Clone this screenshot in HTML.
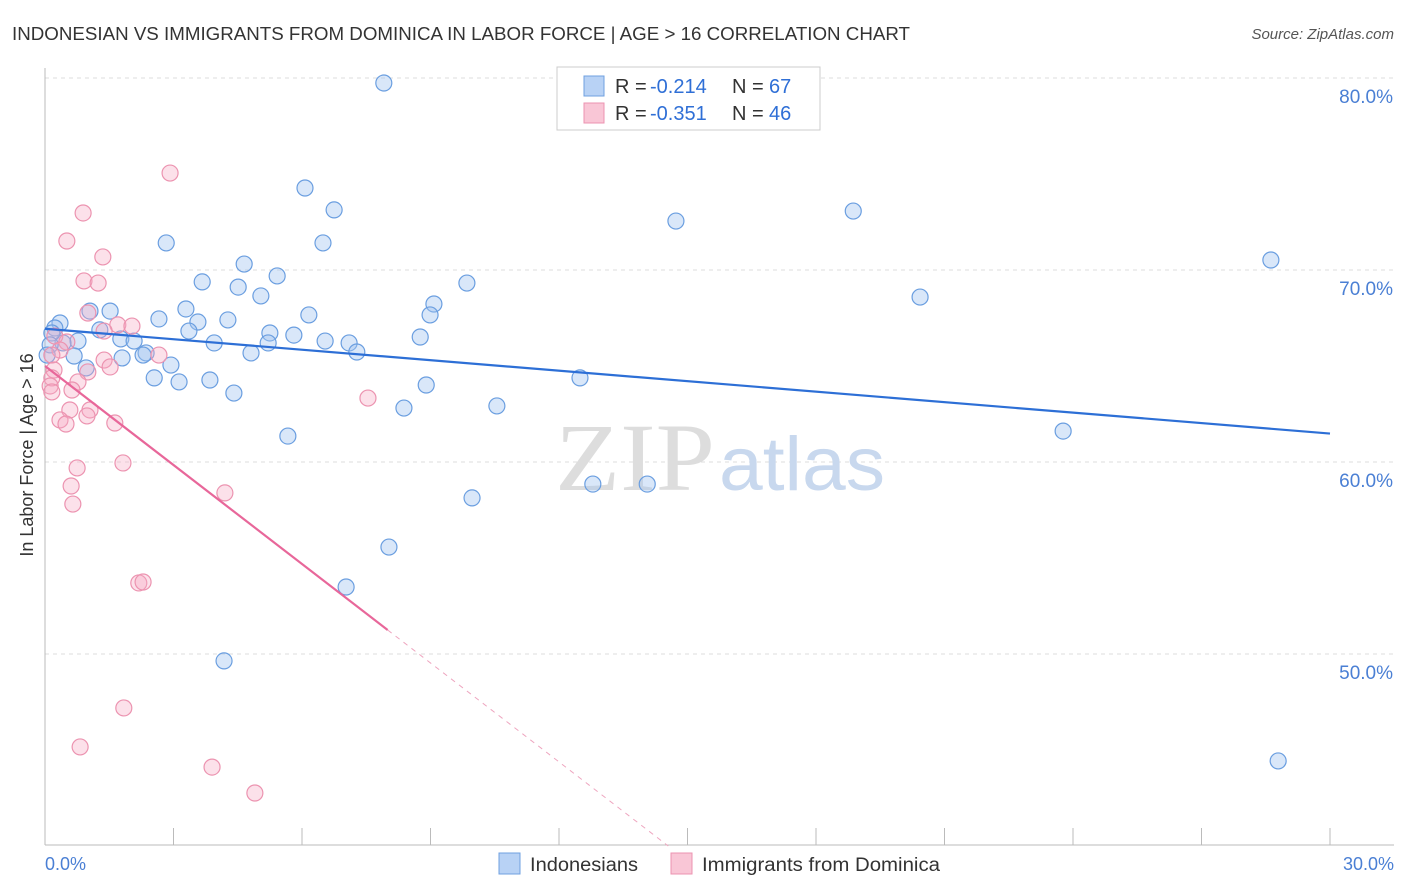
<!DOCTYPE html>
<html><head><meta charset="utf-8"><style>
body{margin:0;background:#fff;font-family:"Liberation Sans",sans-serif}
svg{display:block}
</style></head><body>
<svg id="c" width="1406" height="892">
<text x="12" y="40" font-size="18" fill="#333" textLength="898" lengthAdjust="spacingAndGlyphs">INDONESIAN VS IMMIGRANTS FROM DOMINICA IN LABOR FORCE | AGE &gt; 16 CORRELATION CHART</text>
<text x="1394" y="39" font-size="15" fill="#555" font-style="italic" text-anchor="end">Source: ZipAtlas.com</text>
<g id="grid"></g>
<text x="555" y="490" font-size="96" fill="#ddd" textLength="160" lengthAdjust="spacingAndGlyphs" font-family="Liberation Serif">ZIP</text>
<text x="719" y="490" font-size="76" fill="#c8d8ee" textLength="166" lengthAdjust="spacingAndGlyphs">atlas</text>
<g id="pts"></g>
<g id="lines"></g>
<text x="33" y="455" font-size="18" fill="#333" text-anchor="middle" transform="rotate(-90 33 455)">In Labor Force | Age &gt; 16</text>
<text x="45" y="870" font-size="18" fill="#4a7fd4">0.0%</text>
<text x="1394" y="870" font-size="18" fill="#4a7fd4" text-anchor="end">30.0%</text>
<g>
<rect x="557" y="67" width="263" height="63" fill="#fff" stroke="#ccc"/>
<rect x="584" y="76" width="20" height="20" fill="#b8d2f5" stroke="#6fa0e0"/>
<rect x="584" y="103" width="20" height="20" fill="#f9c6d6" stroke="#ec93b0"/>
<text x="615" y="93" font-size="20" fill="#333">R =</text>
<text x="650" y="93" font-size="20" fill="#2f6fd6">-0.214</text>
<text x="732" y="93" font-size="20" fill="#333">N =</text>
<text x="769" y="93" font-size="20" fill="#2f6fd6">67</text>
<text x="615" y="120" font-size="20" fill="#333">R =</text>
<text x="650" y="120" font-size="20" fill="#2f6fd6">-0.351</text>
<text x="732" y="120" font-size="20" fill="#333">N =</text>
<text x="769" y="120" font-size="20" fill="#2f6fd6">46</text>
</g>
<g>
<rect x="499" y="853" width="21" height="21" fill="#b8d2f5" stroke="#6fa0e0"/>
<text x="530" y="871" font-size="19" fill="#333" textLength="108" lengthAdjust="spacingAndGlyphs">Indonesians</text>
<rect x="671" y="853" width="21" height="21" fill="#f9c6d6" stroke="#ec93b0"/>
<text x="702" y="871" font-size="19" fill="#333" textLength="238" lengthAdjust="spacingAndGlyphs">Immigrants from Dominica</text>
</g>
</svg>
<script>
const yTicks=[50,60,70,80];
const yTickLabels=["50.0%","60.0%","70.0%","80.0%"];
const xTicks=[0,3,6,9,12,15,18,21,24,27,30];
const blueX=[7.91,6.07,6.75,2.83,6.49,14.73,18.87,28.62,4.65,5.42,3.67,4.51,5.04,9.85,9.08,8.99,20.43,3.29,1.52,1.05,2.66,4.27,3.57,6.16,0.35,0.23,1.28,3.36,5.25,5.81,8.76,1.77,2.08,0.77,0.42,3.95,6.54,7.10,5.21,7.28,4.81,2.36,2.29,0.68,1.80,2.94,0.96,2.55,3.13,3.85,12.49,8.90,4.41,8.38,10.55,5.67,23.77,12.79,14.06,9.97,8.03,7.03,4.18,28.79,0.16,0.12,0.05];
const blueY=[79.74,74.27,73.13,71.41,71.41,72.55,73.07,70.52,70.31,69.69,69.38,69.11,68.65,69.32,68.23,67.66,68.59,67.97,67.86,67.86,67.45,67.40,67.29,67.66,67.24,66.98,66.88,66.82,66.72,66.61,66.51,66.41,66.30,66.30,66.20,66.20,66.30,66.20,66.20,65.73,65.68,65.68,65.57,65.52,65.42,65.05,64.90,64.38,64.17,64.27,64.38,64.01,63.59,62.81,62.92,61.35,61.61,58.85,58.85,58.13,55.57,53.49,49.64,44.43,66.72,66.1,65.57];
const pinkX=[2.92,0.89,0.51,1.35,0.91,1.24,1.00,1.70,2.03,1.38,0.23,0.51,0.35,0.16,2.66,1.38,1.52,0.21,1.00,0.16,0.77,0.12,0.63,7.54,0.58,1.05,0.98,0.35,0.49,1.63,1.82,0.75,0.61,0.65,4.20,2.19,2.29,1.84,0.82,3.90,4.90,0.16];
const pinkY=[75.05,72.97,71.51,70.68,69.43,69.32,67.76,67.14,67.08,66.82,66.56,66.25,65.83,65.57,65.57,65.31,64.95,64.79,64.69,64.38,64.17,63.96,63.75,63.33,62.71,62.71,62.40,62.19,61.98,62.03,59.95,59.69,58.75,57.81,58.39,53.70,53.75,47.19,45.16,44.11,42.76,63.65];
const blueTrend=[[0,66.94],[30,61.48]];
const pinkTrendSolid=[[0,65.0],[8.0,51.25]];
const pinkTrendDash=[[8.0,51.25],[14.55,40.0]];
const X=v=>45+v*42.833, Y=v=>270-(v-70)*19.2;
const NS="http://www.w3.org/2000/svg";
function mk(t,a,p){const e=document.createElementNS(NS,t);for(const k in a)e.setAttribute(k,a[k]);p.appendChild(e);return e;}
const grid=document.getElementById('grid');
yTicks.forEach((t,i)=>{
 const l=mk('line',{x1:45,x2:1394,y1:Y(t),y2:Y(t),stroke:'#ddd','stroke-dasharray':'4,4'},grid);
 
 
 const tx=mk('text',{x:1393,y:Y(t)+25,'font-size':19,fill:'#4a7fd4','text-anchor':'end'},grid);
 tx.textContent=yTickLabels[i];
 
 
});
mk('line',{x1:45,x2:45,y1:68,y2:845,stroke:'#bbb'},grid);
mk('line',{x1:45,x2:1394,y1:845,y2:845,stroke:'#bbb'},grid);
xTicks.forEach(t=>{
 const l=mk('line',{x1:X(t),x2:X(t),y1:828,y2:845,stroke:'#bbb'},grid);
 
 
});
const pts=document.getElementById('pts');
blueX.forEach((x,i)=>{
 const c=mk('circle',{cx:X(x),cy:Y(blueY[i]),r:8,fill:'rgba(160,195,240,0.4)',stroke:'#6a9ee0','stroke-width':1.2},pts);
 
 
});
pinkX.forEach((x,i)=>{
 const c=mk('circle',{cx:X(x),cy:Y(pinkY[i]),r:8,fill:'rgba(245,170,195,0.35)',stroke:'#ec93b0','stroke-width':1.2},pts);
 
 
});
const lines=document.getElementById('lines');
const b=mk('line',{x1:X(blueTrend[0][0]),y1:Y(blueTrend[0][1]),x2:X(blueTrend[1][0]),y2:Y(blueTrend[1][1]),stroke:'#2d6fd6','stroke-width':2.2},lines);


const p=mk('line',{x1:X(pinkTrendSolid[0][0]),y1:Y(pinkTrendSolid[0][1]),x2:X(pinkTrendSolid[1][0]),y2:Y(pinkTrendSolid[1][1]),stroke:'#e8679a','stroke-width':2.2},lines);


const pd=mk('line',{x1:X(pinkTrendDash[0][0]),y1:Y(pinkTrendDash[0][1]),x2:X(pinkTrendDash[1][0]),y2:Y(pinkTrendDash[1][1]),stroke:'#eea5bf','stroke-width':1,'stroke-dasharray':'5,5'},lines);


</script>
</body></html>
